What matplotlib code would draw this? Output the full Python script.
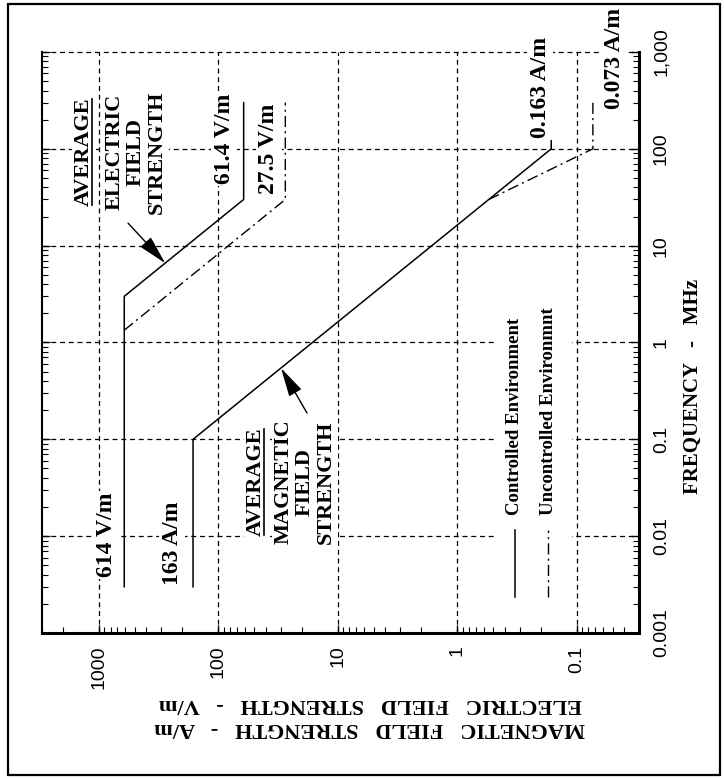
import matplotlib
matplotlib.use("Agg")
import matplotlib.pyplot as plt
from matplotlib.patches import Rectangle
from matplotlib.lines import Line2D
from matplotlib.ticker import FixedLocator, NullFormatter, LogLocator
from matplotlib.transforms import IdentityTransform

# frequency breakpoints (MHz) and field strength for each curve
freq_e_ctrl = [0.003, 3, 30, 300]
e_ctrl = [614, 614, 61.4, 61.4]
freq_e_unc = [1.34, 30, 300]
e_unc = [614, 27.5, 27.5]
freq_h_ctrl = [0.003, 0.1, 100, 300]
h_ctrl = [163, 163, 0.163, 0.163]
freq_h_unc = [30, 100, 300]
h_unc = [0.543, 0.073, 0.073]

field_ticks = [1000, 100, 10, 1, 0.1]
field_tick_labels = ["1000", "100", "10", "1", "0.1"]
freq_ticks = [0.001, 0.01, 0.1, 1, 10, 100, 1000]
freq_tick_labels = ["0.001", "0.01", "0.1", "1", "10", "100", "1,000"]

# value labels: (text, field, freq)
value_labels = [
    ("614 V/m", 857, 0.0103),
    ("163 A/m", 244, 0.0085),
    ("61.4 V/m", 89.7, 126),
    ("27.5 V/m", 37.7, 99.6),
    ("0.163 A/m", 0.202, 435),
    ("0.073 A/m", 0.0485, 867),
]

SERIF = "Liberation Serif"
SANS = "Liberation Sans"
W, H = 724, 779

fig = plt.figure(figsize=(W / 100, H / 100), dpi=100)
ax = fig.add_axes([42 / W, 1 - 633 / H, 597 / W, 581 / H])

# field strength runs horizontally (decreasing to the right), frequency vertically
ax.plot(e_ctrl, freq_e_ctrl, color="k", lw=1.1, zorder=4)
ax.plot(h_ctrl, freq_h_ctrl, color="k", lw=1.1, zorder=4)
ax.plot(e_unc, freq_e_unc, color="k", lw=1.0, ls=(0, (8, 3, 1.5, 3)), zorder=4)
ax.plot(h_unc, freq_h_unc, color="k", lw=1.0, ls=(0, (8, 3, 1.5, 3)), zorder=4)

ax.set_xscale("log")
ax.set_yscale("log")
ax.set_xlim(3000, 0.03)
ax.set_ylim(0.001, 1000)

ax.xaxis.set_major_locator(FixedLocator(field_ticks))
ax.xaxis.set_ticklabels(field_tick_labels)
ax.yaxis.set_major_locator(FixedLocator(freq_ticks))
ax.yaxis.set_ticklabels(freq_tick_labels)
ax.xaxis.set_minor_locator(LogLocator(base=10, subs=range(2, 10), numticks=20))
ax.yaxis.set_minor_locator(LogLocator(base=10, subs=range(2, 10), numticks=20))
ax.xaxis.set_minor_formatter(NullFormatter())
ax.yaxis.set_minor_formatter(NullFormatter())

ax.tick_params(axis="x", which="both", direction="in", bottom=True, top=False,
               labelrotation=90, pad=9)
ax.tick_params(axis="y", which="both", direction="in", left=True, right=True,
               labelleft=False, labelright=True, labelrotation=90, pad=10)
ax.tick_params(which="major", length=6, width=1)
ax.tick_params(which="minor", length=4, width=0.8)
for lab in ax.get_xticklabels() + ax.get_yticklabels():
    lab.set_fontfamily(SANS)
    lab.set_fontsize(14)
for lab in ax.get_yticklabels():
    lab.set_verticalalignment("center")

ax.spines["top"].set_visible(False)
ax.spines["bottom"].set_linewidth(2.2)
ax.spines["right"].set_linewidth(2.2)
ax.spines["left"].set_linewidth(1.5)

ax.grid(True, which="major", color="k", lw=0.9, ls=(0, (4, 3)))
for gl in ax.get_xgridlines() + ax.get_ygridlines():
    gl.set_clip_on(False)
ax.set_axisbelow(True)

white = dict(facecolor="white", edgecolor="none", pad=1.5)
tkw = dict(family=SERIF, fontweight="bold", rotation=90, ha="center", va="center")

for txt, fx, fy in value_labels:
    ax.text(fx, fy, txt, fontsize=17, bbox=white, zorder=5, **tkw)

avg_e = ax.text(1334, 92.7, "AVERAGE", fontsize=16, bbox=white, zorder=5, **tkw)
ax.text(494, 92.7, "ELECTRIC\nFIELD\nSTRENGTH", fontsize=16, linespacing=1.08,
        bbox=white, zorder=5, **tkw)
avg_h = ax.text(48.4, 0.0362, "AVERAGE", fontsize=16, bbox=white, zorder=5, **tkw)
ax.text(18.8, 0.0362, "MAGNETIC\nFIELD\nSTRENGTH", fontsize=16, linespacing=1.08,
        bbox=white, zorder=5, **tkw)

arrow = dict(arrowstyle="-|>,head_length=0.9,head_width=0.22", color="k",
             lw=1.0, mutation_scale=20, shrinkA=0, shrinkB=0)
ax.annotate("", xy=(279, 6.6), xytext=(571, 17.1), arrowprops=arrow, zorder=6)
ax.annotate("", xy=(29.9, 0.545), xytext=(18.1, 0.187), arrowprops=arrow, zorder=6)

# legend drawn by hand so it can be rotated with the rest of the chart
ax.add_patch(Rectangle((0.762, 0.048), 0.126, 0.599, transform=ax.transAxes,
                       facecolor="white", edgecolor="none", zorder=3))
ax.plot([0.792, 0.792], [0.062, 0.177], transform=ax.transAxes, color="k",
        lw=1.1, zorder=4)
ax.plot([0.848, 0.848], [0.062, 0.177], transform=ax.transAxes, color="k",
        lw=1.0, ls=(0, (8, 3, 1.5, 3)), zorder=4)
lkw = dict(family=SERIF, fontweight="bold", rotation=90, ha="center", va="bottom",
           fontsize=13.5, transform=ax.transAxes, zorder=5)
ax.text(0.791, 0.203, "Controlled Environment", **lkw)
ax.text(0.848, 0.203, "Uncontrolled Environmnt", **lkw)

# axis titles
fig.text(693 / W, 1 - 386 / H, "FREQUENCY   -   MHz", family=SERIF, fontweight="bold",
         fontsize=15, rotation=90, ha="center", va="center")
fig.text(370 / W, 1 - 716 / H,
         "MAGNETIC   FIELD   STRENGTH   -   A/m\nELECTRIC   FIELD   STRENGTH   -   V/m",
         family=SERIF, fontweight="bold", fontsize=16, rotation=180,
         ha="center", va="center", linespacing=1.25)

# outer frame
fig.patches.append(Rectangle((8 / W, 4 / H), 712 / W, 771 / H, transform=fig.transFigure,
                             fill=False, edgecolor="k", lw=1.6))

# underline the AVERAGE words
fig.canvas.draw()
rend = fig.canvas.get_renderer()
for t in (avg_e, avg_h):
    bb = t.get_window_extent(rend)
    xline = bb.x1 - 2
    fig.add_artist(Line2D([xline, xline], [bb.y0 + 1, bb.y1 - 1], color="k", lw=1.2,
                          transform=IdentityTransform(), zorder=10))

fig.savefig("out.png", dpi=100)
